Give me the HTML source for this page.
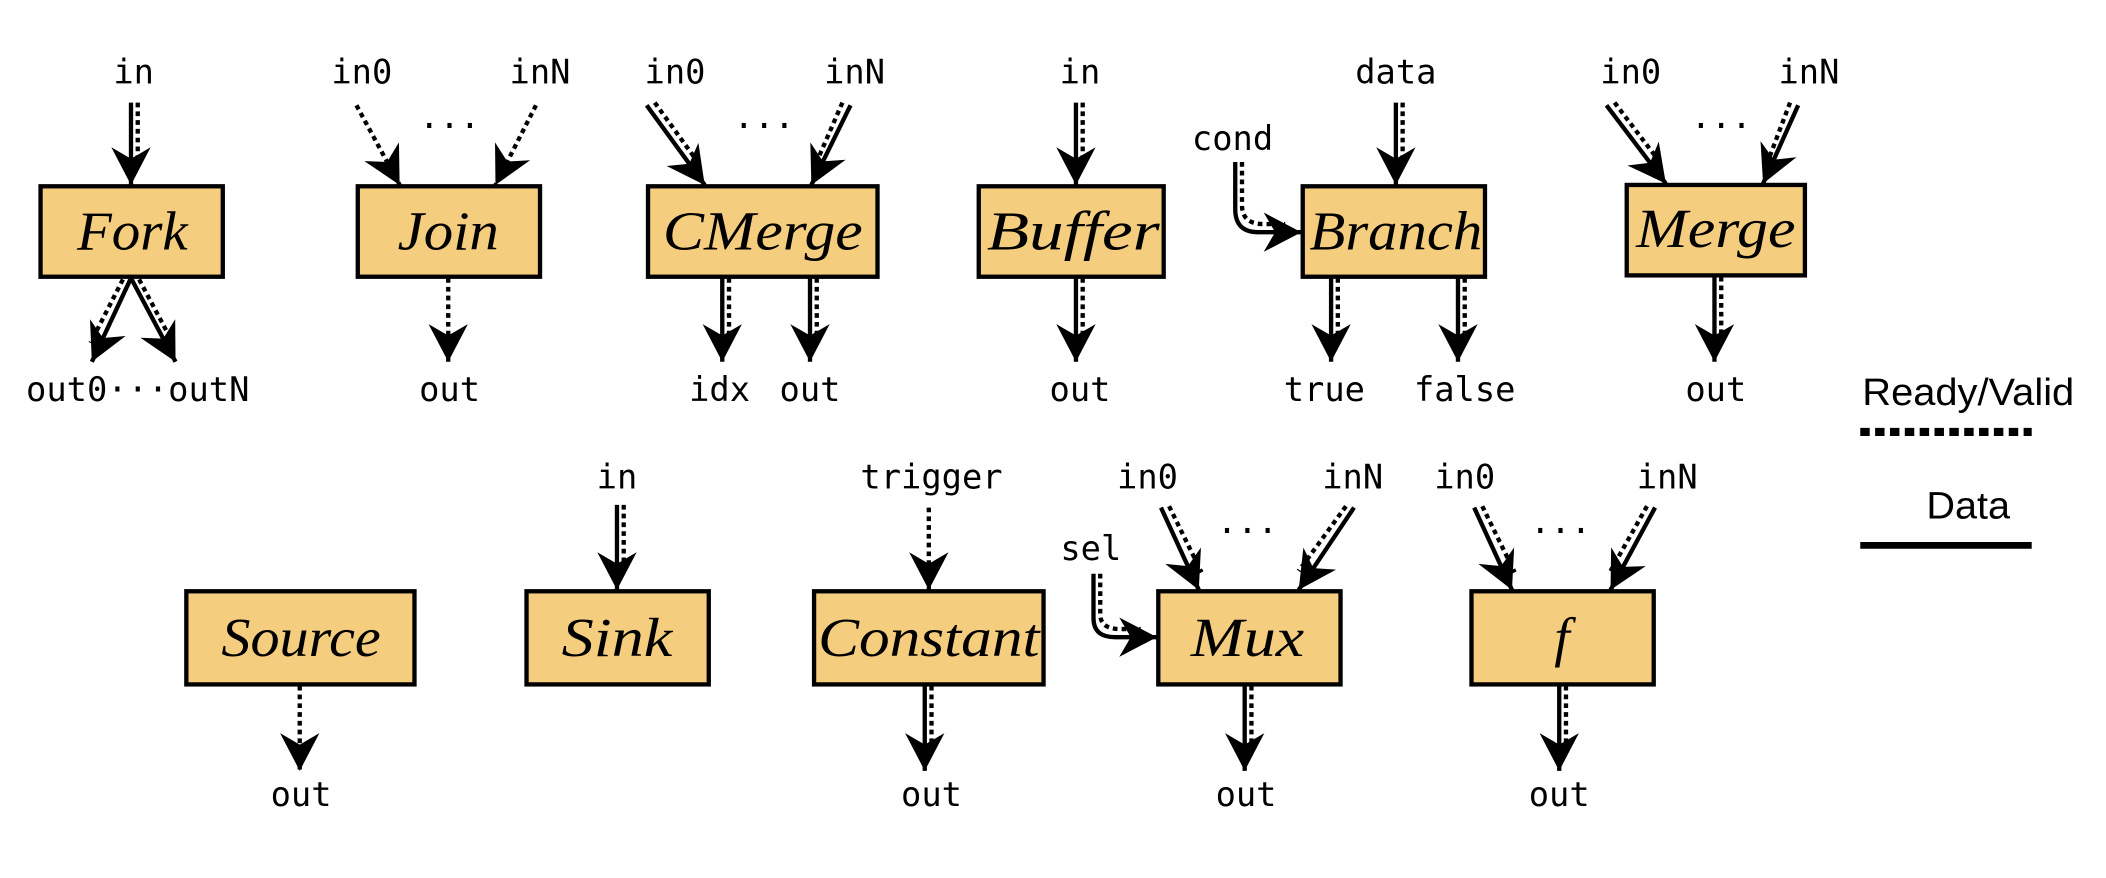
<!DOCTYPE html>
<html><head><meta charset="utf-8"><style>
html,body{margin:0;padding:0;background:#fff;}
svg{display:block;}
.m{font-family:"DejaVu Sans Mono","Liberation Mono",monospace;font-size:25px;fill:#000;text-anchor:middle;}
.b{font-family:"Liberation Serif",serif;font-style:italic;font-size:41px;fill:#000;text-anchor:middle;}
.s{fill:none;stroke:#000;stroke-width:3.2;}
.d{fill:none;stroke:#000;stroke-width:3.2;stroke-dasharray:3.5,3;}
rect{fill:#F5CD7E;stroke:#000;stroke-width:3.2;}
</style></head><body>
<svg width="2106" height="878" viewBox="0 0 1560 650.4" xmlns="http://www.w3.org/2000/svg">
<defs>
<marker id="a" markerUnits="userSpaceOnUse" markerWidth="34" markerHeight="34" viewBox="-26 -14 28 28" refX="0" refY="0" orient="auto">
<path d="M0,0 L-23,-12 L-16,0 L-23,12 Z" fill="#000"/>
</marker>
</defs>

<!-- Row 1 boxes -->
<rect x="30" y="138" width="135" height="67"/><text class="b" x="98" y="185" textLength="82" lengthAdjust="spacingAndGlyphs">Fork</text>
<rect x="265" y="138" width="135" height="67"/><text class="b" x="332" y="185" textLength="75" lengthAdjust="spacingAndGlyphs">Join</text>
<rect x="480" y="138" width="170" height="67"/><text class="b" x="565" y="185" textLength="148" lengthAdjust="spacingAndGlyphs">CMerge</text>
<rect x="725" y="138" width="137" height="67"/><text class="b" x="795" y="185" textLength="128" lengthAdjust="spacingAndGlyphs">Buffer</text>
<rect x="965" y="138" width="135" height="67"/><text class="b" x="1034" y="185" textLength="128" lengthAdjust="spacingAndGlyphs">Branch</text>
<rect x="1205" y="137" width="132" height="67"/><text class="b" x="1271" y="183" textLength="118" lengthAdjust="spacingAndGlyphs">Merge</text>

<!-- Row 2 boxes -->
<rect x="138" y="438" width="169" height="69"/><text class="b" x="223" y="486" textLength="118" lengthAdjust="spacingAndGlyphs">Source</text>
<rect x="390" y="438" width="135" height="69"/><text class="b" x="457" y="486" textLength="82" lengthAdjust="spacingAndGlyphs">Sink</text>
<rect x="603" y="438" width="170" height="69"/><text class="b" x="688" y="486" textLength="164" lengthAdjust="spacingAndGlyphs">Constant</text>
<rect x="858" y="438" width="135" height="69"/><text class="b" x="924" y="486" textLength="84" lengthAdjust="spacingAndGlyphs">Mux</text>
<rect x="1090" y="438" width="135" height="69"/><text class="b" x="1157" y="486">f</text>

<!-- Fork -->
<text class="m" x="99" y="62">in</text>
<line class="s" x1="97" y1="76" x2="97" y2="137" marker-end="url(#a)"/>
<line class="d" x1="102" y1="76" x2="102" y2="122"/>
<line class="s" x1="97" y1="206" x2="68" y2="268" marker-end="url(#a)"/>
<line class="d" x1="91" y1="207" x2="67" y2="254"/>
<line class="s" x1="97" y1="206" x2="130" y2="268" marker-end="url(#a)"/>
<line class="d" x1="103" y1="207" x2="128" y2="254"/>
<text class="m" x="102" y="297">out0···outN</text>

<!-- Join -->
<text class="m" x="268" y="62">in0</text><text class="m" x="400" y="62">inN</text>
<line class="d" x1="264" y1="78" x2="296" y2="137" marker-end="url(#a)"/>
<line class="d" x1="397" y1="78" x2="367" y2="137" marker-end="url(#a)"/>
<text class="m" x="333" y="102">···</text>
<line class="d" x1="332" y1="206" x2="332" y2="268" marker-end="url(#a)"/>
<text class="m" x="333" y="297">out</text>

<!-- CMerge -->
<text class="m" x="500" y="62">in0</text><text class="m" x="633" y="62">inN</text>
<line class="s" x1="479" y1="78" x2="522" y2="137" marker-end="url(#a)"/>
<line class="d" x1="485" y1="76" x2="519" y2="123"/>
<line class="s" x1="630" y1="78" x2="601" y2="137" marker-end="url(#a)"/>
<line class="d" x1="624" y1="76" x2="604" y2="122"/>
<text class="m" x="566" y="102">···</text>
<line class="s" x1="535" y1="206" x2="535" y2="268" marker-end="url(#a)"/>
<line class="d" x1="540" y1="206" x2="540" y2="254"/>
<line class="s" x1="600" y1="206" x2="600" y2="268" marker-end="url(#a)"/>
<line class="d" x1="605" y1="206" x2="605" y2="254"/>
<text class="m" x="533" y="297">idx</text><text class="m" x="600" y="297">out</text>

<!-- Buffer -->
<text class="m" x="800" y="62">in</text>
<line class="s" x1="797" y1="76" x2="797" y2="137" marker-end="url(#a)"/>
<line class="d" x1="802" y1="76" x2="802" y2="122"/>
<line class="s" x1="797" y1="206" x2="797" y2="268" marker-end="url(#a)"/>
<line class="d" x1="802" y1="206" x2="802" y2="254"/>
<text class="m" x="800" y="297">out</text>

<!-- Branch -->
<text class="m" x="1034" y="62">data</text>
<line class="s" x1="1034" y1="76" x2="1034" y2="137" marker-end="url(#a)"/>
<line class="d" x1="1039" y1="76" x2="1039" y2="122"/>
<text class="m" x="913" y="111">cond</text>
<path class="s" d="M915,120 L915,155 Q915,172 932,172 L964,172" marker-end="url(#a)"/>
<path class="d" d="M920,120 L920,152 Q920,166 936,166 L952,166"/>
<line class="s" x1="986" y1="206" x2="986" y2="268" marker-end="url(#a)"/>
<line class="d" x1="991" y1="206" x2="991" y2="254"/>
<line class="s" x1="1080" y1="206" x2="1080" y2="268" marker-end="url(#a)"/>
<line class="d" x1="1085" y1="206" x2="1085" y2="254"/>
<text class="m" x="981" y="297">true</text><text class="m" x="1085" y="297">false</text>

<!-- Merge -->
<text class="m" x="1208" y="62">in0</text><text class="m" x="1340" y="62">inN</text>
<line class="s" x1="1190" y1="78" x2="1234" y2="136" marker-end="url(#a)"/>
<line class="d" x1="1196" y1="76" x2="1231" y2="122"/>
<line class="s" x1="1332" y1="78" x2="1306" y2="136" marker-end="url(#a)"/>
<line class="d" x1="1326" y1="76" x2="1309" y2="121"/>
<text class="m" x="1275" y="102">···</text>
<line class="s" x1="1270" y1="205" x2="1270" y2="268" marker-end="url(#a)"/>
<line class="d" x1="1275" y1="205" x2="1275" y2="254"/>
<text class="m" x="1271" y="297">out</text>

<!-- Legend -->
<text x="1458" y="300" font-family="Liberation Sans, sans-serif" font-size="28" text-anchor="middle" textLength="157" lengthAdjust="spacingAndGlyphs">Ready/Valid</text>
<line x1="1378" y1="320" x2="1505" y2="320" stroke="#000" stroke-width="6" stroke-dasharray="7,4"/>
<text x="1458" y="384" font-family="Liberation Sans, sans-serif" font-size="28" text-anchor="middle" textLength="62" lengthAdjust="spacingAndGlyphs">Data</text>
<line x1="1378" y1="404" x2="1505" y2="404" stroke="#000" stroke-width="5"/>

<!-- Source -->
<line class="d" x1="222" y1="508" x2="222" y2="571" marker-end="url(#a)"/>
<text class="m" x="223" y="597">out</text>

<!-- Sink -->
<text class="m" x="457" y="362">in</text>
<line class="s" x1="457" y1="374" x2="457" y2="437" marker-end="url(#a)"/>
<line class="d" x1="462" y1="374" x2="462" y2="422"/>

<!-- Constant -->
<text class="m" x="690" y="362">trigger</text>
<line class="d" x1="688" y1="376" x2="688" y2="437" marker-end="url(#a)"/>
<line class="s" x1="685" y1="508" x2="685" y2="571" marker-end="url(#a)"/>
<line class="d" x1="690" y1="508" x2="690" y2="556"/>
<text class="m" x="690" y="597">out</text>

<!-- Mux -->
<text class="m" x="850" y="362">in0</text><text class="m" x="1002" y="362">inN</text>
<line class="s" x1="860" y1="376" x2="888" y2="437" marker-end="url(#a)"/>
<line class="d" x1="866" y1="375" x2="890" y2="424"/>
<line class="s" x1="1003" y1="376" x2="962" y2="437" marker-end="url(#a)"/>
<line class="d" x1="997" y1="375" x2="962" y2="423"/>
<text class="m" x="924" y="402">···</text>
<text class="m" x="808" y="415">sel</text>
<path class="s" d="M810,425 L810,458 Q810,472 826,472 L857,472" marker-end="url(#a)"/>
<path class="d" d="M815,425 L815,455 Q815,466 830,466 L845,466"/>
<line class="s" x1="922" y1="508" x2="922" y2="571" marker-end="url(#a)"/>
<line class="d" x1="927" y1="508" x2="927" y2="556"/>
<text class="m" x="923" y="597">out</text>

<!-- f -->
<text class="m" x="1085" y="362">in0</text><text class="m" x="1235" y="362">inN</text>
<line class="s" x1="1092" y1="376" x2="1120" y2="437" marker-end="url(#a)"/>
<line class="d" x1="1098" y1="375" x2="1122" y2="424"/>
<line class="s" x1="1226" y1="376" x2="1193" y2="437" marker-end="url(#a)"/>
<line class="d" x1="1220" y1="375" x2="1193" y2="423"/>
<text class="m" x="1156" y="402">···</text>
<line class="s" x1="1155" y1="508" x2="1155" y2="571" marker-end="url(#a)"/>
<line class="d" x1="1160" y1="508" x2="1160" y2="556"/>
<text class="m" x="1155" y="597">out</text>
</svg>
</body></html>
